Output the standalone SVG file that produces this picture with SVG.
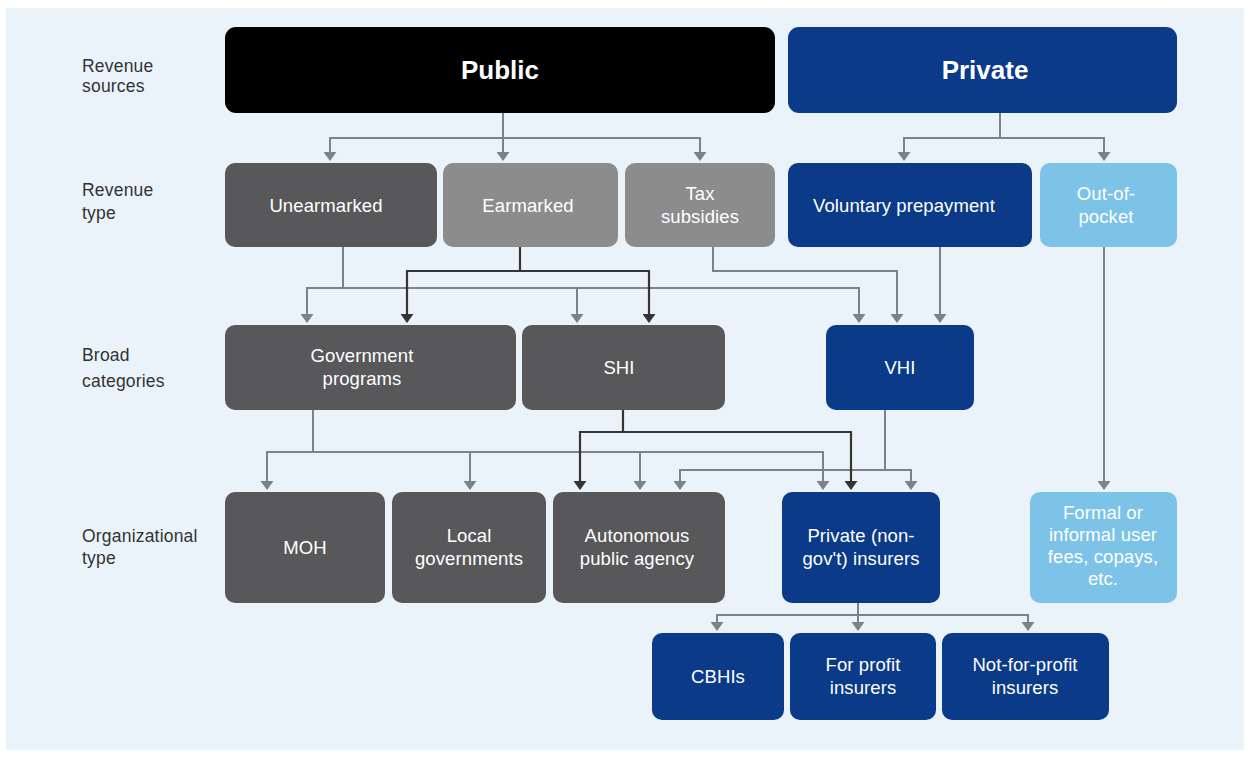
<svg xmlns="http://www.w3.org/2000/svg" width="1252" height="758" viewBox="0 0 1252 758">
<defs>
<style>
.lbl{font-family:"Liberation Sans",Arial,sans-serif;font-size:17.5px;fill:#333;letter-spacing:0.2px}
.t{font-family:"Liberation Sans",Arial,sans-serif;font-size:18.5px;fill:#fff;text-anchor:middle;letter-spacing:0.1px}
.big{font-family:"Liberation Sans",Arial,sans-serif;font-size:26px;font-weight:bold;fill:#fff;text-anchor:middle}
.dk{fill:#58585a}.md{fill:#8c8c8c}.bl{fill:#0b3a88}.lb{fill:#7dc3e8}.blk{fill:#000}
.g{fill:none;stroke:#7d8288;stroke-width:2;marker-end:url(#ag)}
.d{fill:none;stroke:#353535;stroke-width:2.2;marker-end:url(#ad)}
</style>
<marker id="ag" markerUnits="userSpaceOnUse" markerWidth="9" markerHeight="13" refX="8" refY="6.5" orient="auto"><path d="M0,0 L9,6.5 L0,13 z" fill="#7d8288"/></marker>
<marker id="ad" markerUnits="userSpaceOnUse" markerWidth="9" markerHeight="13" refX="8" refY="6.5" orient="auto"><path d="M0,0 L9,6.5 L0,13 z" fill="#353535"/></marker>
</defs>
<rect x="0" y="0" width="1252" height="758" fill="#fff"/>
<rect x="6" y="8" width="1238" height="742" fill="#ebf3fa"/>

<g id="labels">
<text class="lbl" x="82" y="72">Revenue</text><text class="lbl" x="82" y="92">sources</text>
<text class="lbl" x="82" y="196">Revenue</text><text class="lbl" x="82" y="219">type</text>
<text class="lbl" x="82" y="361">Broad</text><text class="lbl" x="82" y="387">categories</text>
<text class="lbl" x="82" y="542">Organizational</text><text class="lbl" x="82" y="564">type</text>
</g>

<g id="connectors">
<path class="g" d="M503 113 V138 H330 V160"/>
<path class="g" d="M503 113 V160"/>
<path class="g" d="M503 138 H700 V160"/>
<path class="g" d="M1000 113 V138 H904 V160"/>
<path class="g" d="M1000 138 H1104 V160"/>

<path class="g" d="M343 247 V288 H307 V322"/>
<path class="g" d="M343 288 H577 V322"/>
<path class="g" d="M577 288 H859 V322"/>
<path class="g" d="M713 247 V271 H897 V322"/>
<path class="g" d="M940 247 V322"/>
<path class="g" d="M1104 247 V489"/>
<path class="d" d="M520 247 V271 H407 V322"/>
<path class="d" d="M520 271 H649 V322"/>

<path class="g" d="M313 410 V452 H267 V489"/>
<path class="g" d="M313 452 H470 V489"/>
<path class="g" d="M470 452 H640 V489"/>
<path class="g" d="M640 452 H823 V489"/>
<path class="g" d="M885 410 V470 H680 V489"/>
<path class="g" d="M885 470 H911 V489"/>
<path class="d" d="M623 410 V432 H580 V489"/>
<path class="d" d="M623 432 H851 V489"/>

<path class="g" d="M858 603 V615 H717 V630"/>
<path class="g" d="M858 603 V630"/>
<path class="g" d="M858 615 H1028 V630"/>
</g>

<g id="public"><rect class="blk" x="225" y="27" width="550" height="86" rx="11"/><text class="big" x="500" y="79">Public</text></g>
<g id="private"><rect class="bl" x="788" y="27" width="389" height="86" rx="11"/><text class="big" x="985" y="79">Private</text></g>

<g id="unearmarked"><rect class="dk" x="225" y="163" width="212" height="84" rx="10"/><text class="t" x="326" y="212">Unearmarked</text></g>
<g id="earmarked"><rect class="md" x="443" y="163" width="175" height="84" rx="10"/><text class="t" x="528" y="212">Earmarked</text></g>
<g id="tax-subsidies"><rect class="md" x="625" y="163" width="150" height="84" rx="10"/><text class="t" x="700" y="200">Tax</text><text class="t" x="700" y="223">subsidies</text></g>
<g id="voluntary-prepayment"><rect class="bl" x="788" y="163" width="244" height="84" rx="10"/><text class="t" x="904" y="212">Voluntary prepayment</text></g>
<g id="out-of-pocket"><rect class="lb" x="1040" y="163" width="137" height="84" rx="10"/><text class="t" x="1106" y="200">Out-of-</text><text class="t" x="1106" y="223">pocket</text></g>

<g id="government-programs"><rect class="dk" x="225" y="325" width="291" height="85" rx="10"/><text class="t" x="362" y="362">Government</text><text class="t" x="362" y="385">programs</text></g>
<g id="shi"><rect class="dk" x="522" y="325" width="203" height="85" rx="10"/><text class="t" x="619" y="374">SHI</text></g>
<g id="vhi"><rect class="bl" x="826" y="325" width="148" height="85" rx="10"/><text class="t" x="900" y="374">VHI</text></g>

<g id="moh"><rect class="dk" x="225" y="492" width="160" height="111" rx="10"/><text class="t" x="305" y="554">MOH</text></g>
<g id="local-governments"><rect class="dk" x="392" y="492" width="154" height="111" rx="10"/><text class="t" x="469" y="542">Local</text><text class="t" x="469" y="565">governments</text></g>
<g id="autonomous-public-agency"><rect class="dk" x="553" y="492" width="172" height="111" rx="10"/><text class="t" x="637" y="542">Autonomous</text><text class="t" x="637" y="565">public agency</text></g>
<g id="private-insurers"><rect class="bl" x="782" y="492" width="158" height="111" rx="10"/><text class="t" x="861" y="542">Private (non-</text><text class="t" x="861" y="565">gov't) insurers</text></g>
<g id="user-fees"><rect class="lb" x="1030" y="492" width="147" height="111" rx="10"/><text class="t" x="1103" y="519">Formal or</text><text class="t" x="1103" y="541">informal user</text><text class="t" x="1103" y="563">fees, copays,</text><text class="t" x="1103" y="585">etc.</text></g>

<g id="cbhis"><rect class="bl" x="652" y="633" width="132" height="87" rx="10"/><text class="t" x="718" y="683">CBHIs</text></g>
<g id="for-profit"><rect class="bl" x="790" y="633" width="146" height="87" rx="10"/><text class="t" x="863" y="671">For profit</text><text class="t" x="863" y="694">insurers</text></g>
<g id="not-for-profit"><rect class="bl" x="942" y="633" width="167" height="87" rx="10"/><text class="t" x="1025" y="671">Not-for-profit</text><text class="t" x="1025" y="694">insurers</text></g>
</svg>
